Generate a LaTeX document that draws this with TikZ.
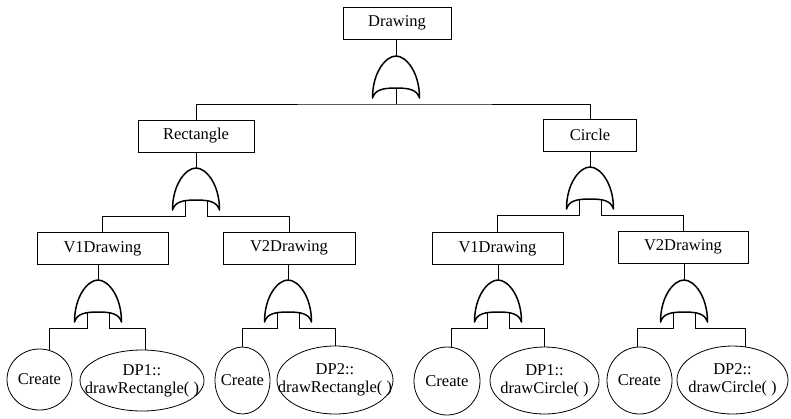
\documentclass[tikz,border=0pt]{standalone}
\usepackage{fontspec}
\setmainfont{Liberation Serif}
\newfontfamily\labelface{Liberation Serif}
\usetikzlibrary{shapes.geometric,backgrounds}
\tikzset{
  txt/.style={font=\labelface\fontsize{16.5}{18}\selectfont},
  lbl/.style={txt, align=center, inner sep=0pt},
  box/.style={draw, line width=0.8pt, fill=white, minimum height=32pt, inner sep=0pt, txt},
  leaf/.style={ellipse, draw, line width=0.8pt, fill=white, inner sep=0pt},
  wire/.style={line width=0.8pt},
  orgate/.pic={
    \draw[line width=1.5pt, line join=round]
      (0,0) .. controls (-10,0) and (-23.5,16) .. (-23.5,42)
            .. controls (-21,34) and (-14,32) .. (0,32)
            .. controls (14,32) and (21,34) .. (23.5,42)
            .. controls (23.5,16) and (10,0) .. (0,0);
    \coordinate (-apex) at (0,0);
    \coordinate (-out) at (0,32);
    \coordinate (-ob) at (0,48);
    \coordinate (-l) at (-10.5,32.5);
    \coordinate (-r) at (11.5,32.5);
    \coordinate (-lb) at (-10.5,48);
    \coordinate (-rb) at (11.5,48);
  }
}
\begin{document}
\begin{tikzpicture}[x=1pt,y=-1pt]
\useasboundingbox (0,0) rectangle (791,418);

% event boxes
\node[box, minimum width=108pt] (top) at (397,23) {Drawing};
\node[box, minimum width=116pt] (rect) at (196,136) {Rectangle};
\node[box, minimum width=93pt] (circ) at (590,135) {Circle};
\node[box, minimum width=131pt] (v1r) at (102.5,248.5) {V1Drawing};
\node[box, minimum width=132pt] (v2r) at (289,248) {V2Drawing};
\node[box, minimum width=131pt] (v1c) at (497.5,248.5) {V1Drawing};
\node[box, minimum width=130pt] (v2c) at (683,247) {V2Drawing};

% OR gates
\pic (g0) at (396,56) {orgate};
\pic (g1) at (196,168) {orgate};
\pic (g2) at (590,167) {orgate};
\pic (g3) at (98,280) {orgate};
\pic (g4) at (288,280) {orgate};
\pic (g5) at (498,280) {orgate};
\pic (g6) at (684,280) {orgate};

% basic events
\node[leaf, minimum width=65pt, minimum height=61pt, label={[lbl]center:Create}] (c1) at (39.5,379.5) {};
\node[leaf, minimum width=124pt, minimum height=61pt, label={[lbl]center:{DP1::\\drawRectangle( )}}] (d1) at (142,380.5) {};
\node[leaf, minimum width=55pt, minimum height=67pt, label={[lbl]center:Create}] (c2) at (242.5,380.5) {};
\node[leaf, minimum width=116pt, minimum height=68pt, label={[lbl]center:{DP2::\\drawRectangle( )}}] (d2) at (335,380) {};
\node[leaf, minimum width=66pt, minimum height=68pt, label={[lbl]center:Create}] (c3) at (447,381) {};
\node[leaf, minimum width=109pt, minimum height=67pt, label={[lbl]center:{DP1::\\drawCircle( )}}] (d3) at (544.5,380.5) {};
\node[leaf, minimum width=65pt, minimum height=67pt, label={[lbl]center:Create}] (c4) at (639.5,380.5) {};
\node[leaf, minimum width=111pt, minimum height=68pt, label={[lbl]center:{DP2::\\drawCircle( )}}] (d4) at (732.5,380) {};

% where the leads enter the basic events
\coordinate (c1t) at (49,380);
\coordinate (d1t) at (145,380);
\coordinate (c2t) at (242,380);
\coordinate (d2t) at (335,380);
\coordinate (c3t) at (451,380);
\coordinate (d3t) at (544,380);
\coordinate (c4t) at (637,380);
\coordinate (d4t) at (745,380);

% connectors
\begin{scope}[on background layer, wire]
  \draw (top.south -| g0-apex) -- (g0-apex);
  \draw (g0-out) -- (g0-ob);
  \draw (rect.north) |- (g0-ob) -| (circ.north);

  \draw (rect.south -| g1-apex) -- (g1-apex);
  \draw (g1-l) -- (g1-lb) -| (v1r.north);
  \draw (g1-r) -- (g1-rb) -| (v2r.north);

  \draw (circ.south -| g2-apex) -- (g2-apex);
  \draw (g2-l) -- (g2-lb) -| (v1c.north);
  \draw (g2-r) -- (g2-rb) -| (v2c.north);

  \draw (v1r.south -| g3-apex) -- (g3-apex);
  \draw (g3-l) -- (g3-lb) -| (c1t);
  \draw (g3-r) -- (g3-rb) -| (d1t);

  \draw (v2r.south -| g4-apex) -- (g4-apex);
  \draw (g4-l) -- (g4-lb) -| (c2t);
  \draw (g4-r) -- (g4-rb) -| (d2t);

  \draw (v1c.south -| g5-apex) -- (g5-apex);
  \draw (g5-l) -- (g5-lb) -| (c3t);
  \draw (g5-r) -- (g5-rb) -| (d3t);

  \draw (v2c.south -| g6-apex) -- (g6-apex);
  \draw (g6-l) -- (g6-lb) -| (c4t);
  \draw (g6-r) -- (g6-rb) -| (d4t);
\end{scope}
\end{tikzpicture}
\end{document}
